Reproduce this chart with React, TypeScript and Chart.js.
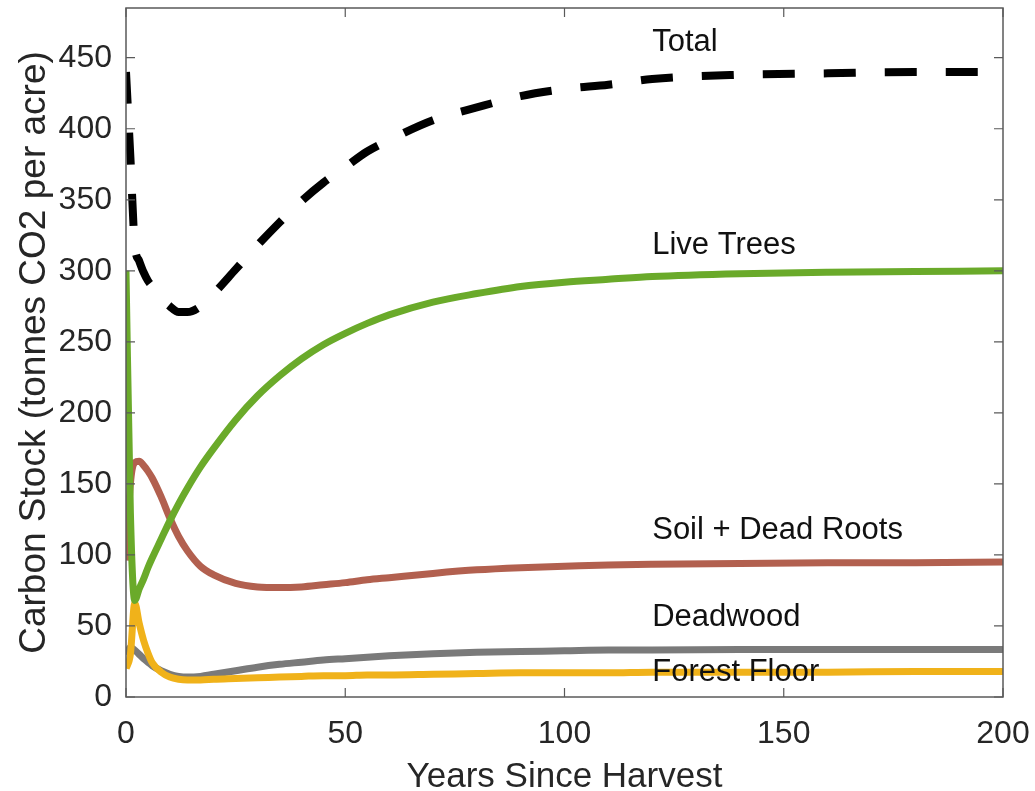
import React, { useEffect, useRef } from "react";
import { Chart, registerables } from "chart.js";

Chart.register(...registerables);

// ---- data ----
const years = [0, 1, 2, 3, 4, 5, 6, 8, 10, 12, 14, 17, 20, 25, 30, 35, 40, 45, 50, 55, 60, 70, 80, 90, 100, 110, 120, 140, 160, 180, 200];
const totalStock = [440, 380, 318, 307, 299, 293, 289, 281, 275, 271, 271, 275, 284, 301, 318, 334, 349, 362, 373, 384, 392, 406, 415, 423, 428, 431, 435, 438, 439, 440, 440];
const liveTrees = [300, 130, 68, 76, 83, 91, 98, 111, 124, 136, 147, 162, 175, 195, 212, 226, 238, 248, 256, 263, 269, 278, 284, 289, 292, 294, 296, 298, 299, 299.5, 300];
const soilDeadRoots = [96, 150, 165, 166, 163, 159, 154, 141, 126, 113, 103, 92, 86, 80, 77.5, 77, 77.5, 79, 80.5, 82.5, 84, 87, 89.5, 91, 92, 93, 93.5, 94, 94.5, 94.5, 95];
const deadwood = [30, 35, 33, 30, 27, 24.5, 22, 18.5, 16, 14.5, 14, 14.5, 16, 18.5, 21, 23, 24.5, 26, 27, 28, 29, 30.5, 31.5, 32, 32.5, 33, 33, 33.5, 33.5, 33.5, 33.5];
const forestFloor = [20, 30, 66, 52, 40, 31, 24, 17.5, 14, 12.5, 12, 12, 12.5, 13, 13.5, 14, 14.5, 15, 15, 15.5, 15.5, 16, 16.5, 17, 17, 17, 17.5, 17.5, 17.5, 18, 18];

const xTicks = [0, 50, 100, 150, 200];
const yTicks = [0, 50, 100, 150, 200, 250, 300, 350, 400, 450];

const labelTexts = ["Total", "Live Trees", "Soil + Dead Roots", "Deadwood", "Forest Floor"];
const labelX = [120, 120, 120, 120, 120];
const labelY = [461, 318, 117, 56, 17];

const FONT = '"Liberation Sans", Arial, Helvetica, sans-serif';

const toPoints = (vals: number[]) => vals.map((v, i) => ({ x: years[i], y: v }));

const framePlugin = {
  id: "matlabFrame",
  afterDatasetsDraw(chart: any) {
    const { ctx, chartArea, scales } = chart;
    const { left, right, top, bottom } = chartArea;
    const x = scales.x;
    const y = scales.y;
    ctx.save();
    ctx.strokeStyle = "#5a5a5a";
    ctx.lineWidth = 1.5;
    ctx.strokeRect(left, top, right - left, bottom - top);
    ctx.lineWidth = 1.2;
    const tl = 9;
    ctx.beginPath();
    xTicks.forEach((v) => {
      const px = x.getPixelForValue(v);
      ctx.moveTo(px, bottom);
      ctx.lineTo(px, bottom - tl);
      ctx.moveTo(px, top);
      ctx.lineTo(px, top + tl);
    });
    yTicks.forEach((v) => {
      const py = y.getPixelForValue(v);
      ctx.moveTo(left, py);
      ctx.lineTo(left + tl, py);
      ctx.moveTo(right, py);
      ctx.lineTo(right - tl, py);
    });
    ctx.stroke();
    ctx.fillStyle = "#111";
    ctx.font = `31px ${FONT}`;
    ctx.textBaseline = "middle";
    ctx.textAlign = "left";
    labelTexts.forEach((t, i) => {
      ctx.fillText(t, x.getPixelForValue(labelX[i]), y.getPixelForValue(labelY[i]));
    });
    ctx.restore();
  },
};

export default function App() {
  const canvasRef = useRef<HTMLCanvasElement | null>(null);

  useEffect(() => {
    document.body.style.margin = "0";
    const canvas = canvasRef.current;
    if (!canvas) return;
    const lineBase = {
      pointRadius: 0,
      borderWidth: 7,
      fill: false,
      cubicInterpolationMode: "monotone" as const,
      borderCapStyle: "butt" as const,
    };
    const chart = new Chart(canvas, {
      type: "line",
      data: {
        datasets: [
          {
            ...lineBase,
            label: "Total",
            data: toPoints(totalStock),
            borderColor: "#000000",
            borderWidth: 8,
            borderDash: [32, 29],
          },
          { ...lineBase, label: "Live Trees", data: toPoints(liveTrees), borderColor: "#6aaa2a" },
          { ...lineBase, label: "Soil + Dead Roots", data: toPoints(soilDeadRoots), borderColor: "#b2604f" },
          { ...lineBase, label: "Forest Floor", data: toPoints(forestFloor), borderColor: "#f0b21a" },
          { ...lineBase, label: "Deadwood", data: toPoints(deadwood), borderColor: "#7a7a7a" },
        ],
      },
      options: {
        animation: false,
        responsive: false,
        maintainAspectRatio: false,
        layout: { padding: { top: 8, right: 32, left: 0, bottom: 0 } },
        plugins: { legend: { display: false }, tooltip: { enabled: false } },
        scales: {
          x: {
            type: "linear",
            min: 0,
            max: 200,
            grid: { display: false, drawTicks: false },
            border: { display: false },
            ticks: { font: { size: 32, family: FONT }, color: "#262626", padding: 18, maxRotation: 0 },
            title: {
              display: true,
              text: "Years Since Harvest",
              font: { size: 35, family: FONT, lineHeight: 1.0 },
              color: "#262626",
              padding: { top: 0, bottom: -4 },
            },
            afterBuildTicks: (s: any) => {
              s.ticks = xTicks.map((v) => ({ value: v }));
            },
            afterFit: (s: any) => {
              s.height = 94;
              s.paddingLeft = 0;
              s.paddingRight = 0;
            },
          },
          y: {
            type: "linear",
            min: 0,
            max: 485,
            grid: { display: false, drawTicks: false },
            border: { display: false },
            ticks: { font: { size: 32, family: FONT }, color: "#262626", padding: 14 },
            title: {
              display: true,
              text: "Carbon Stock (tonnes CO2 per acre)",
              font: { size: 37, family: FONT, lineHeight: 1.0 },
              color: "#262626",
              padding: { top: 16, bottom: 0 },
            },
            afterBuildTicks: (s: any) => {
              s.ticks = yTicks.map((v) => ({ value: v }));
            },
            afterFit: (s: any) => {
              s.width = 126;
              s.paddingTop = 0;
              s.paddingBottom = 0;
            },
          },
        },
      },
      plugins: [framePlugin],
    });
    return () => chart.destroy();
  }, []);

  return (
    <div style={{ width: 1035, height: 791, background: "#ffffff" }}>
      <canvas ref={canvasRef} width={1035} height={791} style={{ display: "block" }} />
    </div>
  );
}
